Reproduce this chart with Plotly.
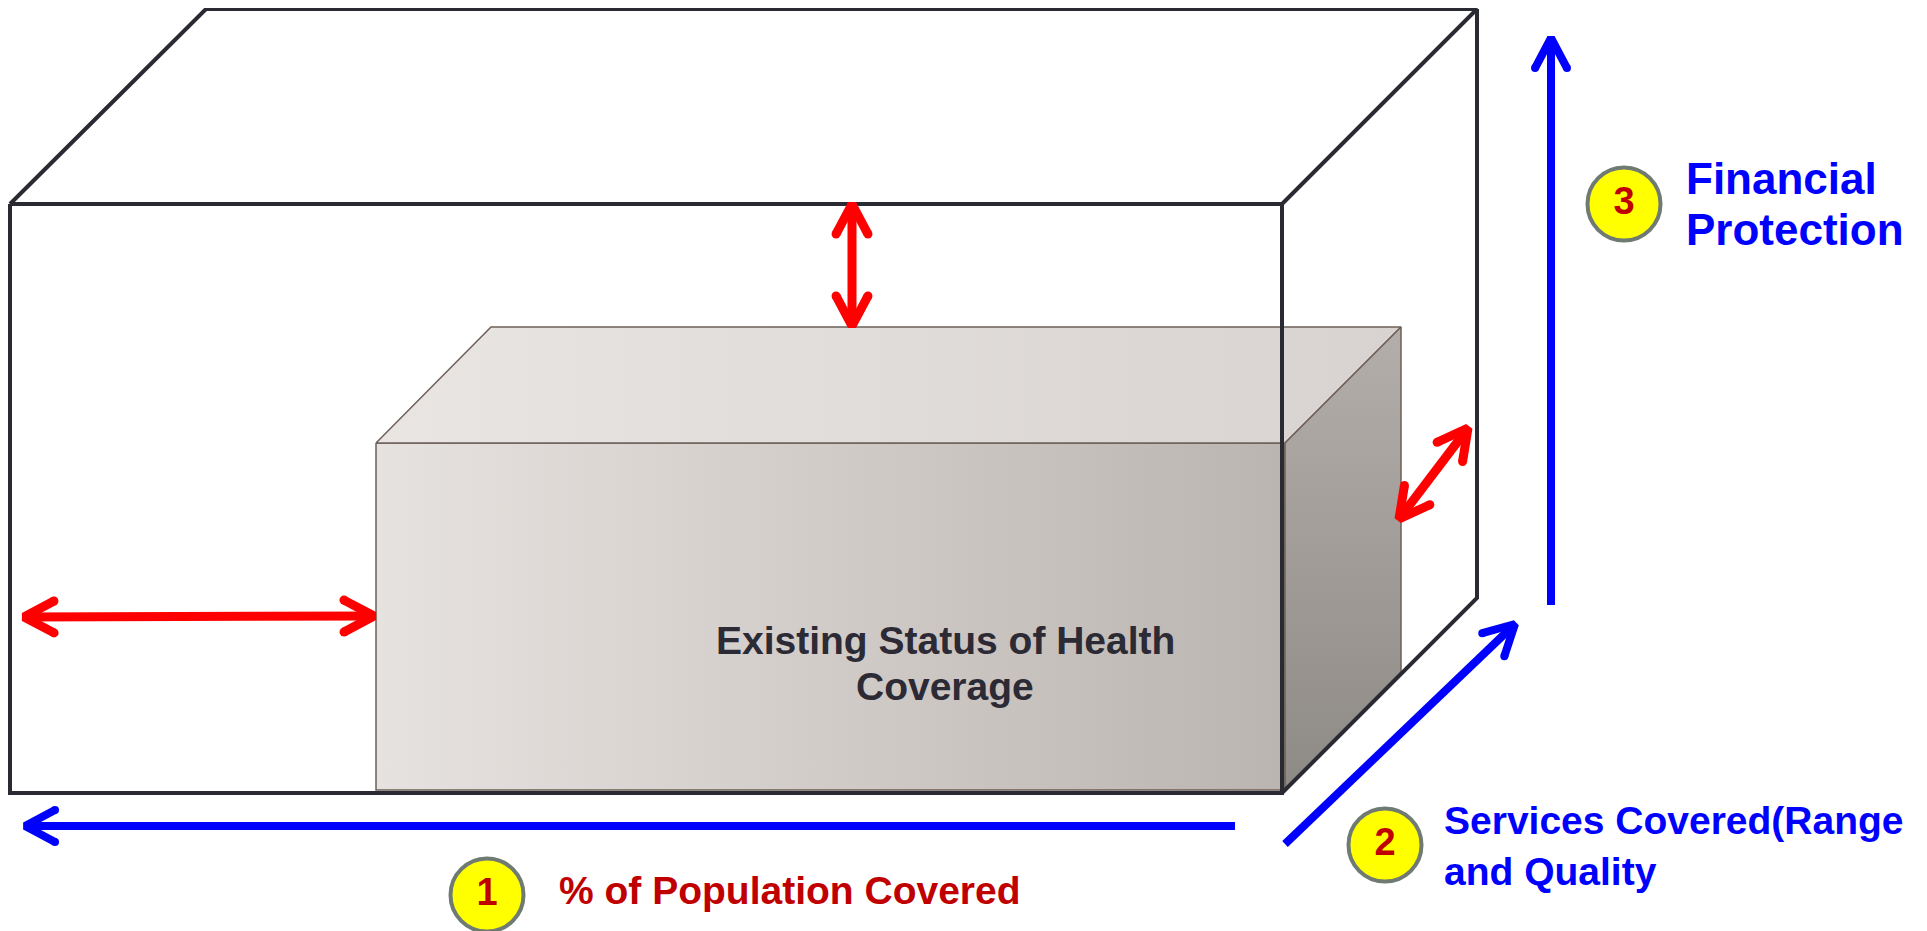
import numpy as np
import plotly.graph_objects as go

# ---- canvas (pixel coordinates, y grows downwards) ----
W, H = 1927, 931
PAGE_PAD = 8  # default body margin of the html page

# ---- outer (target) box wireframe ----
outer_front_x = [10, 1282, 1282, 10, 10]
outer_front_y = [204, 204, 793, 793, 204]
outer_top_x = [10, 206, 1477, 1282]
outer_top_y = [204, 9, 9, 204]
outer_side_x = [1477, 1477, 1282]
outer_side_y = [9, 598, 793]

# ---- inner (existing status) box faces ----
inner_front_x = [376, 1285, 1285, 376, 376]
inner_front_y = [443, 443, 790, 790, 443]
inner_top_x = [376, 491, 1401, 1285, 376]
inner_top_y = [443, 327, 327, 443, 443]
inner_side_x = [1285, 1401, 1401, 1285, 1285]
inner_side_y = [443, 327, 672, 790, 443]

# ---- arrows: (start, end) tips ----
red_arrows = [
    ((852, 204), (852, 326)),     # top gap
    ((24, 617), (374, 616)),      # left gap
    ((1399, 519), (1468, 428)),   # depth gap
]
blue_arrows = [
    ((1235, 826), (25, 826)),     # 1 population
    ((1285, 844), (1515, 624)),   # 2 services
    ((1551, 605), (1551, 38)),    # 3 financial
]

# ---- numbered badges ----
badge_x = [487, 1385, 1624]
badge_y = [895, 845, 204]
badge_txt = ["1", "2", "3"]

# ---- labels ----
label_lines = [
    ("% of Population Covered", 557, 890, "#C00000", 39),
    ("Services Covered(Range", 1442, 820, "#0000FF", 39),
    ("and Quality", 1442, 871, "#0000FF", 39),
    ("Financial", 1684, 178, "#0000FF", 44),
    ("Protection", 1684, 229, "#0000FF", 44),
]
center_lines = [("Existing Status of Health", 945, 640), ("Coverage", 945, 686)]

fig = go.Figure()

# inner box faces with soft grey gradients
face_edge = dict(color="#6e6058", width=1.5)
fig.add_trace(go.Scatter(x=inner_front_x, y=inner_front_y, mode="lines", fill="toself",
                         fillgradient=dict(type="horizontal",
                                           colorscale=[[0, "#e6e2df"], [1, "#bbb5b1"]]),
                         line=face_edge, hoverinfo="skip"))
fig.add_trace(go.Scatter(x=inner_top_x, y=inner_top_y, mode="lines", fill="toself",
                         fillgradient=dict(type="horizontal",
                                           colorscale=[[0, "#e8e5e3"], [1, "#d8d3d0"]]),
                         line=face_edge, hoverinfo="skip"))
fig.add_trace(go.Scatter(x=inner_side_x, y=inner_side_y, mode="lines", fill="toself",
                         fillgradient=dict(type="vertical",
                                           colorscale=[[0, "#8e8a86"], [1, "#b3aeaa"]]),
                         line=face_edge, hoverinfo="skip"))

# outer wireframe
box_line = dict(color="#2a2a33", width=4)
for xs, ys in [(outer_front_x, outer_front_y), (outer_top_x, outer_top_y),
               (outer_side_x, outer_side_y)]:
    fig.add_trace(go.Scatter(x=xs, y=ys, mode="lines", line=box_line, hoverinfo="skip"))


def chevron(tip, back, arm=34, spread=np.radians(28)):
    # two arm end points of an open arrowhead at `tip`, pointing away from `back`
    d = np.array(back, float) - np.array(tip, float)
    d /= np.linalg.norm(d)
    pts = []
    for s in (spread, -spread):
        c, sn = np.cos(s), np.sin(s)
        r = np.array([d[0] * c - d[1] * sn, d[0] * sn + d[1] * c])
        pts.append(np.array(tip) + arm * r)
    return pts


def add_arrow(p0, p1, color, width, both=False):
    xs, ys = [p0[0], p1[0], None], [p0[1], p1[1], None]
    ends_x, ends_y = [], []
    heads = [(p1, p0)] + ([(p0, p1)] if both else [])
    for tip, back in heads:
        a, b = chevron(tip, back)
        xs += [a[0], tip[0], b[0], None]
        ys += [a[1], tip[1], b[1], None]
        ends_x += [a[0], b[0]]
        ends_y += [a[1], b[1]]
    fig.add_trace(go.Scatter(x=xs, y=ys, mode="lines", hoverinfo="skip",
                             line=dict(color=color, width=width)))
    # rounded ends on the arrowhead arms
    fig.add_trace(go.Scatter(x=ends_x, y=ends_y, mode="markers", hoverinfo="skip",
                             marker=dict(color=color, size=width, line=dict(width=0))))


for p0, p1 in red_arrows:
    add_arrow(p0, p1, "#FF0000", 9, both=True)
for p0, p1 in blue_arrows:
    add_arrow(p0, p1, "#0000FF", 8)

# yellow numbered badges
fig.add_trace(go.Scatter(
    x=badge_x, y=badge_y, mode="markers+text", text=badge_txt,
    textposition="middle center",
    textfont=dict(family="Liberation Sans", size=38, color="#C00000", weight="bold"),
    marker=dict(size=73, color="#FFFF00", line=dict(color="#6f7a72", width=4)),
    hoverinfo="skip"))

for txt, x, y, col, sz in label_lines:
    fig.add_annotation(x=x, y=y, text=f"<b>{txt}</b>", showarrow=False,
                       xanchor="left", yanchor="middle",
                       font=dict(family="Liberation Sans", size=sz, color=col))
for txt, x, y in center_lines:
    fig.add_annotation(x=x, y=y, text=f"<b>{txt}</b>", showarrow=False,
                       xanchor="center", yanchor="middle",
                       font=dict(family="Liberation Sans", size=39, color="#2b2a35"))

# shift the ranges so that reference pixel positions line up on the page
fig.update_xaxes(range=[PAGE_PAD, W + PAGE_PAD], visible=False, fixedrange=True)
fig.update_yaxes(range=[H + PAGE_PAD, PAGE_PAD], visible=False, fixedrange=True)
fig.update_layout(width=W, height=H, margin=dict(l=0, r=0, t=0, b=0),
                  paper_bgcolor="white", plot_bgcolor="white", showlegend=False)

fig.write_html("out.html")
